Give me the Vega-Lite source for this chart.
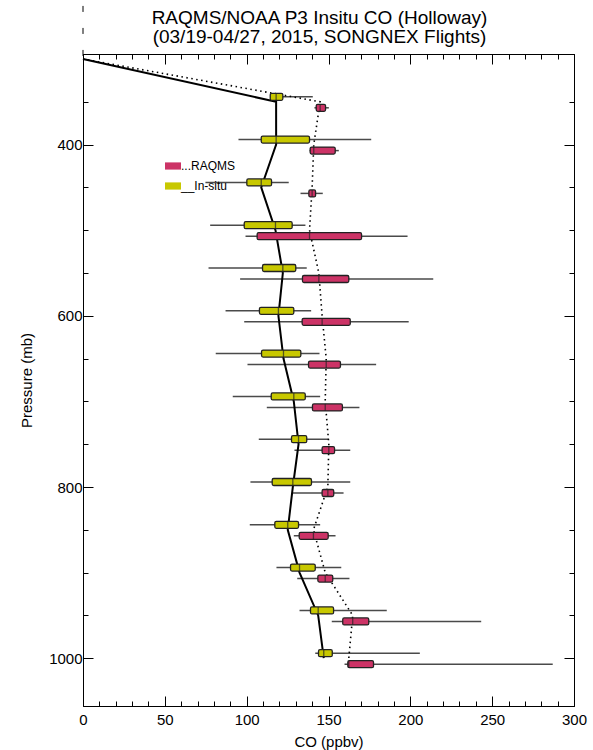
{
  "$schema": "https://vega.github.io/schema/vega-lite/v6.json",
  "width": 491,
  "height": 652,
  "autosize": "none",
  "padding": {"left": 83, "top": 54, "right": 19, "bottom": 44},
  "background": "white",
  "config": {
    "font": "Liberation Sans",
    "view": {"stroke": "black", "strokeWidth": 1},
    "axis": {
      "domainColor": "black",
      "tickColor": "black",
      "labelColor": "black",
      "titleColor": "black",
      "labelFont": "Liberation Sans",
      "titleFont": "Liberation Sans",
      "labelFontSize": 15,
      "titleFontSize": 15,
      "titleFontWeight": "normal",
      "labelFlush": false,
      "labelOverlap": false,
      "grid": false,
      "tickWidth": 1
    }
  },
  "title": {
    "text": ["RAQMS/NOAA P3 Insitu CO (Holloway)", "(03/19-04/27, 2015, SONGNEX Flights)"],
    "font": "Liberation Sans",
    "fontSize": 19,
    "fontWeight": "normal",
    "color": "black",
    "anchor": "middle",
    "frame": "group",
    "lineHeight": 19,
    "dx": -9,
    "offset": -42
  },
  "datasets": {
    "boxes": [
      {"series": "In-situ", "p": 350, "lo": 114.4, "q1": 114.4, "med": 118.0, "q3": 122.1, "hi": 140.4},
      {"series": "In-situ", "p": 400, "lo": 95.0, "q1": 108.9, "med": 118.0, "q3": 138.4, "hi": 176.1},
      {"series": "In-situ", "p": 450, "lo": 74.8, "q1": 100.1, "med": 108.9, "q3": 115.2, "hi": 125.7},
      {"series": "In-situ", "p": 500, "lo": 77.7, "q1": 98.5, "med": 117.6, "q3": 127.8, "hi": 135.9},
      {"series": "In-situ", "p": 550, "lo": 76.7, "q1": 109.7, "med": 122.1, "q3": 130.0, "hi": 136.7},
      {"series": "In-situ", "p": 600, "lo": 87.1, "q1": 107.8, "med": 119.4, "q3": 128.8, "hi": 139.4},
      {"series": "In-situ", "p": 650, "lo": 81.1, "q1": 109.1, "med": 122.5, "q3": 133.1, "hi": 144.5},
      {"series": "In-situ", "p": 700, "lo": 91.5, "q1": 115.0, "med": 128.8, "q3": 135.8, "hi": 144.9},
      {"series": "In-situ", "p": 750, "lo": 107.4, "q1": 127.4, "med": 131.7, "q3": 136.7, "hi": 150.2},
      {"series": "In-situ", "p": 800, "lo": 102.3, "q1": 115.6, "med": 128.2, "q3": 139.6, "hi": 163.3},
      {"series": "In-situ", "p": 850, "lo": 101.9, "q1": 117.2, "med": 125.1, "q3": 131.7, "hi": 144.9},
      {"series": "In-situ", "p": 900, "lo": 118.2, "q1": 126.8, "med": 132.3, "q3": 141.9, "hi": 157.8},
      {"series": "In-situ", "p": 950, "lo": 132.3, "q1": 139.0, "med": 143.7, "q3": 153.1, "hi": 185.6},
      {"series": "In-situ", "p": 1000, "lo": 141.9, "q1": 143.9, "med": 147.1, "q3": 152.3, "hi": 205.8},
      {"series": "RAQMS", "p": 350, "lo": 141.4, "q1": 142.5, "med": 144.9, "q3": 148.2, "hi": 150.2},
      {"series": "RAQMS", "p": 400, "lo": 138.4, "q1": 138.8, "med": 141.0, "q3": 154.1, "hi": 156.3},
      {"series": "RAQMS", "p": 450, "lo": 132.9, "q1": 138.0, "med": 140.0, "q3": 142.1, "hi": 146.5},
      {"series": "RAQMS", "p": 500, "lo": 99.3, "q1": 106.4, "med": 138.4, "q3": 170.2, "hi": 198.3},
      {"series": "RAQMS", "p": 550, "lo": 96.0, "q1": 134.1, "med": 144.1, "q3": 162.4, "hi": 214.0},
      {"series": "RAQMS", "p": 600, "lo": 98.5, "q1": 133.9, "med": 146.1, "q3": 163.3, "hi": 199.0},
      {"series": "RAQMS", "p": 650, "lo": 100.5, "q1": 137.8, "med": 148.6, "q3": 157.3, "hi": 179.1},
      {"series": "RAQMS", "p": 700, "lo": 112.3, "q1": 140.2, "med": 148.0, "q3": 158.5, "hi": 168.9},
      {"series": "RAQMS", "p": 750, "lo": 129.2, "q1": 146.1, "med": 150.2, "q3": 153.7, "hi": 163.3},
      {"series": "RAQMS", "p": 800, "lo": 128.2, "q1": 146.1, "med": 149.6, "q3": 153.2, "hi": 159.2},
      {"series": "RAQMS", "p": 850, "lo": 128.8, "q1": 132.1, "med": 140.8, "q3": 149.8, "hi": 154.3},
      {"series": "RAQMS", "p": 900, "lo": 130.9, "q1": 143.5, "med": 148.0, "q3": 152.6, "hi": 162.8},
      {"series": "RAQMS", "p": 950, "lo": 152.0, "q1": 158.7, "med": 164.8, "q3": 174.6, "hi": 243.3},
      {"series": "RAQMS", "p": 1000, "lo": 159.8, "q1": 161.8, "med": 162.4, "q3": 177.5, "hi": 287.0}
    ],
    "profiles": [
      {"series": "In-situ", "p": 300, "co": 0},
      {"series": "In-situ", "p": 350, "co": 118.0},
      {"series": "In-situ", "p": 400, "co": 118.0},
      {"series": "In-situ", "p": 450, "co": 108.9},
      {"series": "In-situ", "p": 500, "co": 117.6},
      {"series": "In-situ", "p": 550, "co": 122.1},
      {"series": "In-situ", "p": 600, "co": 119.4},
      {"series": "In-situ", "p": 650, "co": 122.5},
      {"series": "In-situ", "p": 700, "co": 128.8},
      {"series": "In-situ", "p": 750, "co": 131.7},
      {"series": "In-situ", "p": 800, "co": 128.2},
      {"series": "In-situ", "p": 850, "co": 125.1},
      {"series": "In-situ", "p": 900, "co": 132.3},
      {"series": "In-situ", "p": 950, "co": 143.7},
      {"series": "In-situ", "p": 1000, "co": 147.1},
      {"series": "RAQMS", "p": 300, "co": 0},
      {"series": "RAQMS", "p": 350, "co": 144.9},
      {"series": "RAQMS", "p": 400, "co": 141.0},
      {"series": "RAQMS", "p": 450, "co": 140.0},
      {"series": "RAQMS", "p": 500, "co": 138.4},
      {"series": "RAQMS", "p": 550, "co": 144.1},
      {"series": "RAQMS", "p": 600, "co": 146.1},
      {"series": "RAQMS", "p": 650, "co": 148.6},
      {"series": "RAQMS", "p": 700, "co": 148.0},
      {"series": "RAQMS", "p": 750, "co": 150.2},
      {"series": "RAQMS", "p": 800, "co": 149.6},
      {"series": "RAQMS", "p": 850, "co": 140.8},
      {"series": "RAQMS", "p": 900, "co": 148.0},
      {"series": "RAQMS", "p": 950, "co": 164.8},
      {"series": "RAQMS", "p": 1000, "co": 162.4}
    ]
  },
  "layer": [
    {
      "data": {"name": "boxes"},
      "transform": [{"filter": "datum.series === 'In-situ'"}],
      "mark": {"type": "rule", "color": "#4a4a4a", "strokeWidth": 1.5, "yOffset": -5},
      "encoding": {
        "x": {
          "field": "lo", "type": "quantitative",
          "scale": {"domain": [0, 300], "nice": false, "zero": false},
          "axis": {
            "orient": "bottom",
            "values": [0,10,20,30,40,50,60,70,80,90,100,110,120,130,140,150,160,170,180,190,200,210,220,230,240,250,260,270,280,290,300],
            "format": "d",
            "labelExpr": "datum.value % 50 === 0 ? datum.label : ''",
            "tickSize": {"condition": {"test": "datum.value % 50 === 0", "value": -10}, "value": -5},
            "labelPadding": 16,
            "title": "CO (ppbv)",
            "titlePadding": 2
          }
        },
        "x2": {"field": "hi"},
        "y": {
          "field": "p", "type": "quantitative",
          "scale": {"domain": [300, 1050], "reverse": true, "nice": false, "zero": false},
          "axis": {
            "orient": "left",
            "values": [350,400,450,500,550,600,650,700,750,800,850,900,950,1000],
            "format": "d",
            "labelExpr": "datum.value % 200 === 0 ? datum.label : ''",
            "tickSize": {"condition": {"test": "datum.value % 200 === 0", "value": -10}, "value": -5},
            "labelPadding": 11,
            "title": "Pressure (mb)",
            "titlePadding": 14
          }
        }
      }
    },
    {
      "data": {"name": "boxes"},
      "transform": [{"filter": "datum.series === 'RAQMS'"}],
      "mark": {"type": "rule", "color": "#4a4a4a", "strokeWidth": 1.5, "yOffset": 6},
      "encoding": {
        "x": {
          "field": "lo", "type": "quantitative",
          "axis": {
            "orient": "top",
            "values": [0,10,20,30,40,50,60,70,80,90,100,110,120,130,140,150,160,170,180,190,200,210,220,230,240,250,260,270,280,290,300],
            "labels": false,
            "tickSize": {"condition": {"test": "datum.value % 50 === 0", "value": -10}, "value": -5},
            "title": null
          }
        },
        "x2": {"field": "hi"},
        "y": {
          "field": "p", "type": "quantitative",
          "axis": {
            "orient": "right",
            "values": [350,400,450,500,550,600,650,700,750,800,850,900,950,1000],
            "labels": false,
            "tickSize": {"condition": {"test": "datum.value % 200 === 0", "value": -10}, "value": -5},
            "title": null
          }
        }
      }
    },
    {
      "data": {"values": [{"a": 1}]},
      "mark": {"type": "rule", "color": "black", "strokeWidth": 1, "strokeDash": [6, 16], "clip": false},
      "encoding": {
        "x": {"datum": 0, "type": "quantitative", "axis": null},
        "y": {"datum": 238, "type": "quantitative", "axis": null},
        "y2": {"datum": 300}
      }
    },
    {
      "data": {"name": "profiles"},
      "transform": [{"filter": "datum.series === 'RAQMS'"}],
      "mark": {"type": "line", "color": "black", "strokeWidth": 1.6, "strokeDash": [1.5, 3.5]},
      "encoding": {
        "x": {"field": "co", "type": "quantitative", "axis": null},
        "y": {"field": "p", "type": "quantitative", "axis": null},
        "order": {"field": "p", "type": "quantitative"}
      }
    },
    {
      "data": {"name": "profiles"},
      "transform": [{"filter": "datum.series === 'In-situ'"}],
      "mark": {"type": "line", "color": "black", "strokeWidth": 2},
      "encoding": {
        "x": {"field": "co", "type": "quantitative", "axis": null},
        "y": {"field": "p", "type": "quantitative", "axis": null},
        "order": {"field": "p", "type": "quantitative"}
      }
    },
    {
      "data": {"name": "boxes"},
      "transform": [{"filter": "datum.series === 'In-situ'"}],
      "mark": {"type": "bar", "size": 7, "yOffset": -5, "stroke": "#222222", "strokeWidth": 1.3, "cornerRadius": 1.5},
      "encoding": {
        "x": {"field": "q1", "type": "quantitative", "axis": null},
        "x2": {"field": "q3"},
        "y": {"field": "p", "type": "quantitative", "axis": null},
        "fill": {
          "field": "series", "type": "nominal",
          "scale": {"domain": ["RAQMS", "In-situ"], "range": ["#cc3366", "#c8c800"]},
          "legend": {
            "orient": "none",
            "legendX": 82,
            "legendY": 104,
            "title": null,
            "symbolType": "M-1,-0.45H1V0.45H-1Z",
            "symbolSize": 256,
            "symbolStrokeWidth": 0,
            "symbolOpacity": 1,
            "labelFont": "Liberation Sans",
            "labelFontSize": 12,
            "labelColor": "black",
            "labelOffset": 0,
            "rowPadding": 6,
            "padding": 0,
            "labelExpr": "datum.label === 'RAQMS' ? '...RAQMS' : '__In-situ'"
          }
        },
        "opacity": {"value": 1}
      }
    },
    {
      "data": {"name": "boxes"},
      "transform": [{"filter": "datum.series === 'RAQMS'"}],
      "mark": {"type": "bar", "size": 7, "yOffset": 6, "stroke": "#222222", "strokeWidth": 1.3, "cornerRadius": 1.5},
      "encoding": {
        "x": {"field": "q1", "type": "quantitative", "axis": null},
        "x2": {"field": "q3"},
        "y": {"field": "p", "type": "quantitative", "axis": null},
        "fill": {"field": "series", "type": "nominal"},
        "opacity": {"value": 1}
      }
    },
    {
      "data": {"name": "boxes"},
      "transform": [{"filter": "datum.series === 'In-situ'"}],
      "mark": {"type": "tick", "orient": "vertical", "size": 7, "thickness": 1.3, "color": "#222222", "yOffset": -5},
      "encoding": {
        "x": {"field": "med", "type": "quantitative", "axis": null},
        "y": {"field": "p", "type": "quantitative", "axis": null}
      }
    },
    {
      "data": {"name": "boxes"},
      "transform": [{"filter": "datum.series === 'RAQMS'"}],
      "mark": {"type": "tick", "orient": "vertical", "size": 7, "thickness": 1.3, "color": "#222222", "yOffset": 6},
      "encoding": {
        "x": {"field": "med", "type": "quantitative", "axis": null},
        "y": {"field": "p", "type": "quantitative", "axis": null}
      }
    }
  ],
  "resolve": {"axis": {"x": "independent", "y": "independent"}}
}
